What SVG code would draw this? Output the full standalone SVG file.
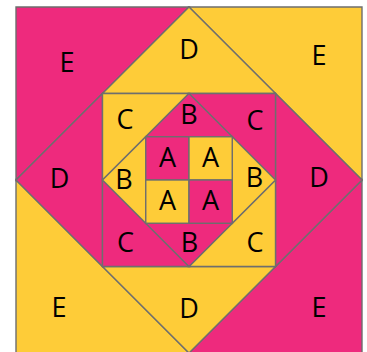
<svg xmlns="http://www.w3.org/2000/svg" width="367" height="352" viewBox="0 0 367 352">
<style>
.p{fill:#EE2A7D;stroke:#6E6E6E;stroke-width:1.4;stroke-linejoin:miter}
.y{fill:#FECC38;stroke:#6E6E6E;stroke-width:1.4;stroke-linejoin:miter}
text{font-family:"Open Sans","Liberation Sans",sans-serif;font-size:27px;fill:#000;text-anchor:middle}
</style>
<rect width="367" height="352" fill="#fff"/>
<g id="E">
<polygon class="p" points="16,7 189,7 16,180"/>
<polygon class="y" points="189,7 362,7 362,180"/>
<polygon class="y" points="16,180 16,353 189,353"/>
<polygon class="p" points="362,180 362,353 189,353"/>
</g>
<g id="D">
<polygon class="y" points="189,7 275.5,93.5 102.5,93.5"/>
<polygon class="p" points="362,180 275.5,266.5 275.5,93.5"/>
<polygon class="y" points="189,353 102.5,266.5 275.5,266.5"/>
<polygon class="p" points="16,180 102.5,93.5 102.5,266.5"/>
</g>
<g id="C">
<polygon class="y" points="102.5,93.5 189,93.5 102.5,180"/>
<polygon class="p" points="189,93.5 275.5,93.5 275.5,180"/>
<polygon class="y" points="275.5,180 275.5,266.5 189,266.5"/>
<polygon class="p" points="102.5,180 189,266.5 102.5,266.5"/>
</g>
<g id="B">
<polygon class="p" points="189,93.5 232.25,136.75 145.75,136.75"/>
<polygon class="y" points="275.5,180 232.25,223.25 232.25,136.75"/>
<polygon class="p" points="189,266.5 145.75,223.25 232.25,223.25"/>
<polygon class="y" points="102.5,180 145.75,136.75 145.75,223.25"/>
</g>
<g id="A">
<rect class="p" x="145.75" y="136.75" width="43.25" height="43.25"/>
<rect class="y" x="189" y="136.75" width="43.25" height="43.25"/>
<rect class="y" x="145.75" y="180" width="43.25" height="43.25"/>
<rect class="p" x="189" y="180" width="43.25" height="43.25"/>
</g>
<g id="labels">
<text x="67" y="71.5">E</text>
<text x="189" y="59">D</text>
<text x="319" y="64.5">E</text>
<text x="125" y="129">C</text>
<text x="189" y="123.5">B</text>
<text x="255" y="129.5">C</text>
<text x="167.5" y="166.5">A</text>
<text x="210.5" y="166.5">A</text>
<text x="124" y="188.5">B</text>
<text x="254.5" y="187">B</text>
<text x="59.5" y="188">D</text>
<text x="319" y="187">D</text>
<text x="167.5" y="210">A</text>
<text x="210.5" y="210">A</text>
<text x="125.5" y="251.5">C</text>
<text x="189.5" y="251.5">B</text>
<text x="255" y="251.5">C</text>
<text x="59" y="317">E</text>
<text x="189" y="317.5">D</text>
<text x="319" y="316.5">E</text>
</g>
</svg>
